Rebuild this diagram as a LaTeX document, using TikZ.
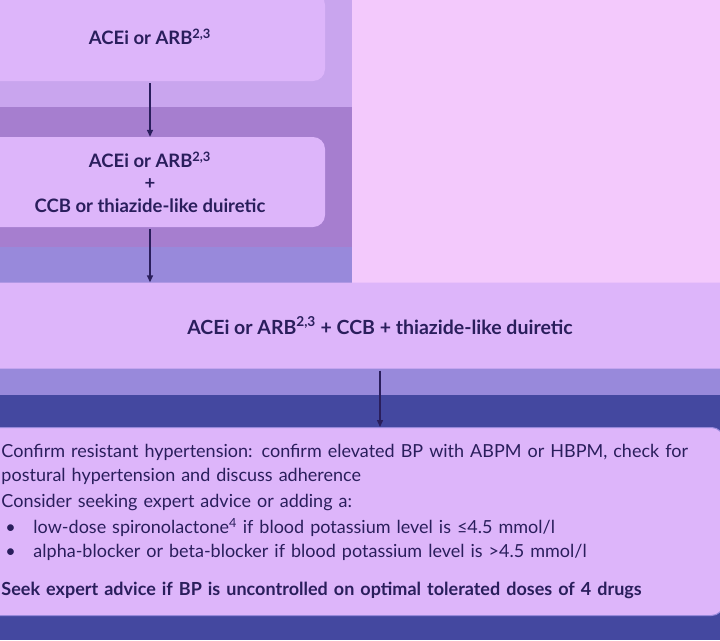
\documentclass[tikz,border=0pt]{standalone}
\usepackage{fontspec}
\setmainfont{Lato}
\usetikzlibrary{arrows.meta, positioning}
\definecolor{pinkbg}{HTML}{F3C9FC}
\definecolor{bandA}{HTML}{C9A5EE}
\definecolor{bandB}{HTML}{A67ECF}
\definecolor{bandC}{HTML}{9889DB}
\definecolor{deepband}{HTML}{4448A0}
\definecolor{boxfill}{HTML}{DDB5FA}
\definecolor{ink}{HTML}{2A1E5C}

\begin{document}
\begin{tikzpicture}[
      x=1pt, y=-1pt,
      stepbox/.style={rectangle, rounded corners=12pt, fill=boxfill, text=ink,
                      align=center, inner sep=0pt,
                      font=\fontsize{18.5}{22.5}\selectfont\bfseries},
      arr/.style={-{Triangle[length=7pt,width=6pt]}, line width=1.4pt, draw=ink,
                  shorten <=2pt}
    ]
    \useasboundingbox (0,0) rectangle (720,640);
    \clip (0,0) rectangle (720,640);
    % background bands
    \fill[pinkbg] (0,0) rectangle (720,283);
    \fill[bandA] (0,0) rectangle (352,107);
    \fill[bandB] (0,107) rectangle (352,247);
    \fill[bandC] (0,247) rectangle (352,283);
    \fill[bandC] (0,283) rectangle (720,395);
    \fill[deepband] (0,395) rectangle (720,640);
    % treatment steps
    \node[stepbox, minimum width=350pt, minimum height=88pt] (mono) at (150,37)
      {ACEi or ARB\textsuperscript{2,3}};
    \node[stepbox, minimum width=350pt, minimum height=90pt] (dual) at (150,182)
      {ACEi or ARB\textsuperscript{2,3}\\+\\CCB or thiazide-like duiretic};
    \node[stepbox, minimum width=790pt, minimum height=86pt,
          font=\fontsize{19.5}{22.5}\selectfont\bfseries] (triple) at (380,325.5)
      {ACEi or ARB\textsuperscript{2,3} + CCB + thiazide-like duiretic};
    \node[stepbox, draw=bandC, line width=1pt, anchor=north west, align=left,
          text width=706pt, inner xsep=16pt, minimum height=188pt,
          font=\fontsize{18}{23.5}\selectfont] (resist) at (-15,427)
      {Confirm resistant hypertension: confirm elevated BP with ABPM or HBPM, check for\\
       postural hypertension and discuss adherence\\[2.5pt]
       Consider seeking expert advice or adding a:\\[3pt]
       \hspace*{4pt}\makebox[28pt][l]{•}low-dose spironolactone\textsuperscript{4} if blood potassium level is ≤4.5 mmol/l\\
       \hspace*{4pt}\makebox[28pt][l]{•}alpha-blocker or beta-blocker if blood potassium level is >4.5 mmol/l\\[15pt]
       \textbf{Seek expert advice if BP is uncontrolled on optimal tolerated doses of 4 drugs}};
    \draw[arr] (mono.south) -- (dual.north);
    \draw[arr] (dual.south) -- (dual.south |- triple.north);
    \draw[arr] (triple.south) -- (triple.south |- resist.north);
  \end{tikzpicture}
\end{document}
